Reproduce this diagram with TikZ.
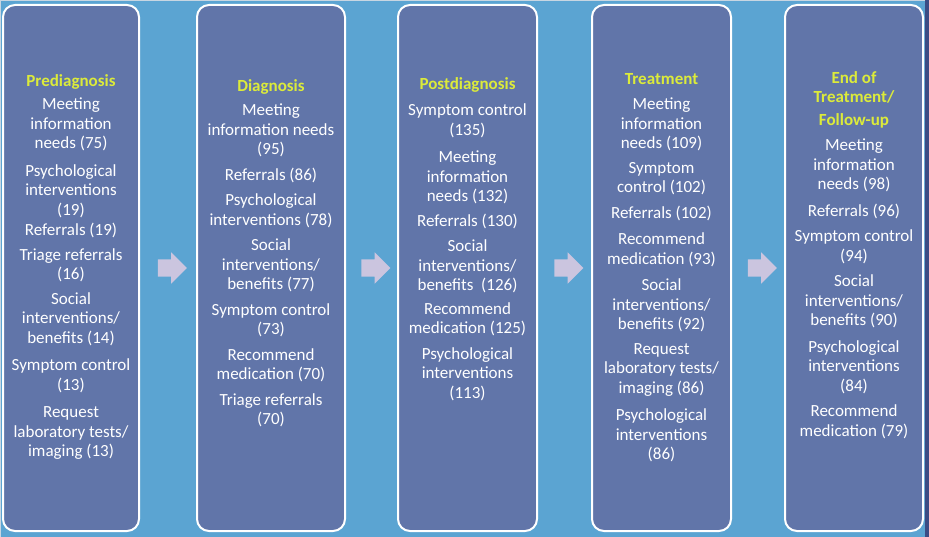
\documentclass[tikz,border=0pt]{standalone}
\usepackage{fontspec}
\setmainfont{Carlito}
\usetikzlibrary{shapes.arrows,calc}
\definecolor{bgblue}{HTML}{5BA4D2}
\definecolor{boxblue}{HTML}{6175A9}
\definecolor{headyel}{HTML}{DCEB3A}
\definecolor{arrowlav}{HTML}{CBC5DF}
\definecolor{edgedark}{HTML}{3B4C84}
\definecolor{edgelight}{HTML}{C8D6E2}
\newcommand{\stagehead}[1]{{\bfseries\color{headyel}#1}}
\begin{document}
\begin{tikzpicture}[x=1pt,y=-1pt,
  stage/.style={draw=white, line width=2pt, fill=boxblue, rounded corners=12pt,
    minimum height=526pt, inner sep=0pt},
  items/.style={anchor=north, align=center, text=white, inner sep=0pt,
    font=\fontsize{17}{19.5}\selectfont},
  flow/.style={single arrow, fill=arrowlav, draw=none, inner sep=8.5pt,
    single arrow head extend=7pt, minimum height=29pt, minimum width=31pt}
]
\fill[bgblue] (0,0) rectangle (929,537);
\useasboundingbox (0,0) rectangle (929,537);
\fill[edgelight] (0,0) rectangle (929,1.5);
\fill[edgelight] (0,0) rectangle (1.2,537);
\fill[edgedark] (924.5,0) rectangle (929,537);

% stage boxes
\node[stage, minimum width=136pt] (b1) at (71,268) {};
\node[stage, minimum width=148pt] (b2) at (271,268) {};
\node[stage, minimum width=139pt] (b3) at (467.5,268) {};
\node[stage, minimum width=139pt] (b4) at (661.5,268) {};
\node[stage, minimum width=138pt] (b5) at (854,268) {};

% arrows
\node[flow] (a1) at ($(b1.east)!0.5!(b2.west)$) {};
\node[flow] (a2) at ($(b2.east)!0.5!(b3.west)$) {};
\node[flow] (a3) at ($(b3.east)!0.5!(b4.west)$) {};
\node[flow] (a4) at ($(b4.east)!0.5!(b5.west)$) {};

% texts
\node[items] (t1) at (71,74) {\stagehead{Prediagnosis}\\[4pt]
Meeting\\information\\needs (75)\\[8pt]
Psychological\\interventions\\(19)\\[1pt]
Referrals (19)\\[5pt]
Triage referrals\\(16)\\[5pt]
Social\\interventions/\\benefits (14)\\[8pt]
Symptom control\\(13)\\[8pt]
Request\\laboratory tests/\\imaging (13)};

\node[items] (t2) at (271,79) {\stagehead{Diagnosis}\\[5pt]
Meeting\\information needs\\(95)\\[6pt]
Referrals (86)\\[6pt]
Psychological\\interventions (78)\\[6pt]
Social\\interventions/\\benefits (77)\\[6pt]
Symptom control\\(73)\\[6pt]
Recommend\\medication (70)\\[6pt]
Triage referrals\\(70)};

\node[items] (t3) at (467.5,77) {\stagehead{Postdiagnosis}\\[7pt]
Symptom control\\(135)\\[8pt]
Meeting\\information\\needs (132)\\[5pt]
Referrals (130)\\[6pt]
Social\\interventions/\\benefits~ (126)\\[4pt]
Recommend\\medication (125)\\[6pt]
Psychological\\interventions\\(113)};

\node[items] (t4) at (661.5,73) {\stagehead{Treatment}\\[6pt]
Meeting\\information\\needs (109)\\[5pt]
Symptom\\control (102)\\[6pt]
Referrals (102)\\[7pt]
Recommend\\medication (93)\\[7pt]
Social\\interventions/\\benefits (92)\\[5pt]
Request\\laboratory tests/\\imaging (86)\\[8pt]
Psychological\\interventions\\(86)};

\node[items] (t5) at (854,71) {\stagehead{End of}\\
\stagehead{Treatment/}\\[3pt]
\stagehead{Follow-up}\\[6pt]
Meeting\\information\\needs (98)\\[7pt]
Referrals (96)\\[6pt]
Symptom control\\(94)\\[6pt]
Social\\interventions/\\benefits (90)\\[7pt]
Psychological\\interventions\\(84)\\[6pt]
Recommend\\medication (79)};
\end{tikzpicture}
\end{document}
